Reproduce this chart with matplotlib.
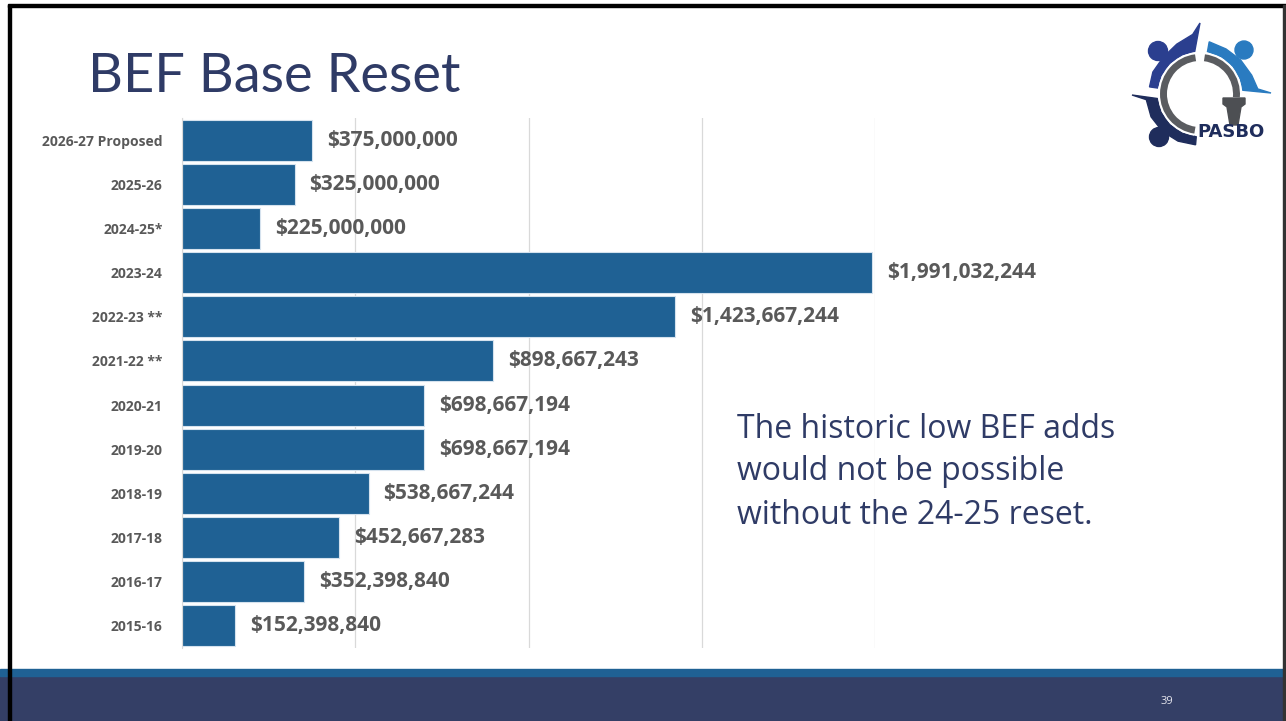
import numpy as np
import matplotlib.pyplot as plt
from matplotlib.patches import Rectangle, Circle, Arc, Polygon

## data, top of chart to bottom
years = ['2026-27 Proposed', '2025-26', '2024-25*', '2023-24', '2022-23 **', '2021-22 **',
         '2020-21', '2019-20', '2018-19', '2017-18', '2016-17', '2015-16']
amounts = [375000000, 325000000, 225000000, 1991032244, 1423667244, 898667243,
           698667194, 698667194, 538667244, 452667283, 352398840, 152398840]
grid_ticks = [0, 500000000, 1000000000, 1500000000, 2000000000]
note = 'The historic low BEF adds\nwould not be possible\nwithout the 24-25 reset.'

bar_col = '#1F6194'
navy = '#2F3B66'
grey_txt = '#595959'

fig = plt.figure(figsize=(12.86, 7.21), dpi=100)
W, H = 1286, 721

## slide frame + footer
fig.patches.append(Rectangle((0, 0), 1, 45/H, transform=fig.transFigure, color='#343F66', zorder=0))
fig.patches.append(Rectangle((0, 45/H), 1, 7/H, transform=fig.transFigure, color='#1F6194', zorder=0))
fig.patches.append(Rectangle((8/W, 0), 3/W, 1 - 5/H, transform=fig.transFigure, color='black', zorder=1))
fig.patches.append(Rectangle((8/W, 1 - 7/H), 1, 3/H, transform=fig.transFigure, color='black', zorder=1))
fig.patches.append(Rectangle((1283/W, 0), 3/W, 1 - 5/H, transform=fig.transFigure, color='#333333', zorder=1))
fig.text(1167/W, 1 - 701/H, '39', color='#E6E6EE', fontsize=8, family='Open Sans', ha='center', va='center')

fig.text(88/W, 1 - 77/H, 'BEF Base Reset', color=navy, fontsize=39, family='Lato', weight='normal',
         ha='left', va='center')

## bar chart
ax = fig.add_axes([182/W, 1 - 648/H, 693/W, 530/H])
y = np.arange(len(years))[::-1]
ax.barh(y, amounts, height=0.93, color=bar_col, edgecolor='#D5E2EE', linewidth=0.8, zorder=2)
for yy, v in zip(y, amounts):
    ax.text(v + 43000000, yy, '${:,}'.format(v), color=grey_txt, fontsize=15, family='Open Sans',
            weight='bold', va='center', ha='left', zorder=3)
ax.set_xlim(0, 2000000000)
ax.set_ylim(-0.5, len(years) - 0.5)
ax.set_xticks(grid_ticks)
ax.set_xticklabels([])
ax.tick_params(axis='x', length=0)
ax.grid(axis='x', color='#D9D9D9', linewidth=0.9, zorder=0)
ax.set_yticks(y)
ax.set_yticklabels(years, fontsize=10, family='Open Sans', weight='bold', color=grey_txt)
ax.tick_params(axis='y', length=0, pad=14)
for s in ['top', 'right', 'bottom']:
    ax.spines[s].set_visible(False)
ax.spines['left'].set_color('#D9D9D9')

fig.text(737/W, 1 - 472/H, note, color=navy, fontsize=23, family='Open Sans', ha='left', va='center',
         linespacing=1.4)

## PASBO logo, drawn in pixel coords (y axis flipped)
lg = fig.add_axes([1125/W, 1 - 160/H, 150/W, 145/H])
lg.set_xlim(1125, 1275)
lg.set_ylim(160, 15)
lg.set_aspect('equal')
lg.axis('off')
cx, cy = 1200, 94
c_dark = '#1F2D5C'
c_mid = '#2B3F8F'
c_light = '#2A7BC0'
c_grey = '#5A5C60'

def arm(angles, outer, tip, col):
    # curved arm hugging the ring: inner edge on r=43, outer radius per angle, ends in a tip
    a = np.radians(angles)
    inner = [(cx + 43*np.cos(t), cy - 43*np.sin(t)) for t in a]
    outr = [(cx + r*np.cos(t), cy - r*np.sin(t)) for t, r in zip(a, outer)]
    pts = inner + [tip] + outr[::-1]
    lg.add_patch(Polygon(pts, color=col, zorder=2))

arm([172, 155, 135, 115, 97], [51, 52, 52, 55, 60], (1200, 23), c_mid)
arm([80, 60, 40, 20, 5], [53, 52, 53, 55, 58], (1271, 93), c_light)
arm([265, 245, 225, 205, 186], [51, 52, 53, 54, 54], (1132, 95), c_dark)
for t1, t2 in [(98, 263), (277, 365)]:
    lg.add_patch(Arc((cx, cy), 73, 73, theta1=t1, theta2=t2, color='white', linewidth=8, zorder=3))
    lg.add_patch(Arc((cx, cy), 73, 73, theta1=t1, theta2=t2, color=c_grey, linewidth=5, zorder=4))
lg.add_patch(Circle((1158, 51), 9.5, color=c_mid, zorder=3))
lg.add_patch(Circle((1244, 50), 9, color=c_light, zorder=3))
lg.add_patch(Circle((1159, 137), 9.5, color=c_dark, zorder=3))
lg.add_patch(Polygon([(1223, 98), (1245, 98), (1245, 104), (1241, 107), (1238, 125), (1230, 125),
                      (1227, 107), (1223, 104)], color='#4D4F53', zorder=5))
lg.text(1231, 132, 'PASBO', color=c_dark, fontsize=13, family='Liberation Sans Narrow', weight='bold',
        ha='center', va='center', zorder=6)

fig.savefig('out.png', dpi=100)
